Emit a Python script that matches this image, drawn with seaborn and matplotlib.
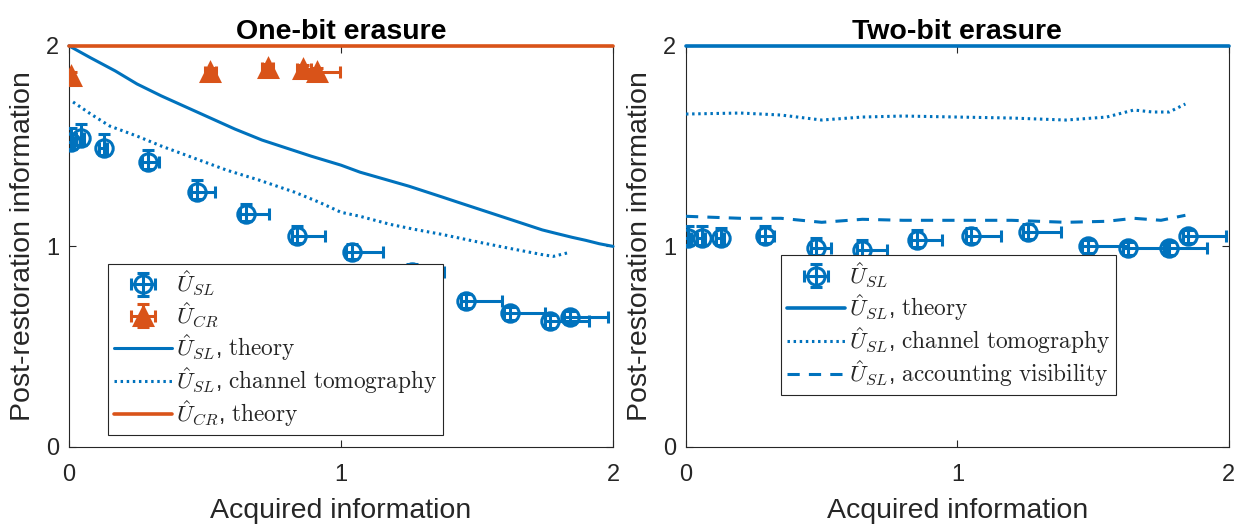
"""
Post-restoration information vs acquired information, one- and two-bit erasure
"""
import numpy as np
import pandas as pd
import seaborn as sns
import matplotlib
matplotlib.use('Agg')
import matplotlib.pyplot as plt

sns.set_style('ticks')
plt.rcParams['font.family'] = ['Liberation Sans', 'DejaVu Sans']
plt.rcParams['mathtext.fontset'] = 'cm'

BLUE = '#0072BD'
ORANGE = '#D95319'
INK = '#262626'

# ---- One-bit erasure: measured points
sl1_x = [0.007, 0.044, 0.13, 0.29, 0.47, 0.65, 0.84, 1.04, 1.26, 1.46, 1.62, 1.77, 1.84]
sl1_y = [1.52, 1.54, 1.49, 1.42, 1.27, 1.16, 1.05, 0.97, 0.87, 0.73, 0.67, 0.63, 0.65]
sl1_xerr = [0.01, 0.01, 0.01, 0.04, 0.066, 0.085, 0.10, 0.115, 0.12, 0.13, 0.13, 0.14, 0.14]
sl1_yerr = [0.07, 0.07, 0.07, 0.06, 0.06, 0.05, 0.05, 0.04, 0.04, 0.03, 0.03, 0.03, 0.03]

cr1_x = [0.007, 0.52, 0.73, 0.86, 0.91]
cr1_y = [1.85, 1.87, 1.89, 1.885, 1.87]
cr1_xerr = [0.005, 0.02, 0.02, 0.03, 0.085]
cr1_yerr = [0.02, 0.02, 0.02, 0.02, 0.02]

# ---- One-bit erasure: curves
th1_x = [0.0, 0.08, 0.17, 0.25, 0.34, 0.43, 0.52, 0.61, 0.71, 0.80, 0.89, 1.0, 1.07, 1.16,
         1.25, 1.37, 1.43, 1.52, 1.61, 1.74, 1.79, 1.85, 1.9, 1.95, 2.0]
th1_y = [2.0, 1.94, 1.875, 1.81, 1.75, 1.695, 1.64, 1.585, 1.53, 1.49, 1.45, 1.405, 1.37,
         1.335, 1.30, 1.247, 1.22, 1.18, 1.14, 1.082, 1.065, 1.045, 1.03, 1.013, 1.0]
ct1_x = [0.015, 0.08, 0.15, 0.25, 0.34, 0.46, 0.58, 0.70, 0.83, 0.92, 1.0, 1.07, 1.18,
         1.27, 1.37, 1.51, 1.62, 1.735, 1.78, 1.84]
ct1_y = [1.72, 1.66, 1.60, 1.55, 1.50, 1.44, 1.38, 1.33, 1.27, 1.22, 1.17, 1.15, 1.11,
         1.085, 1.06, 1.02, 0.99, 0.96, 0.95, 0.97]
crth1_x = [0.0, 2.0]
crth1_y = [2.0, 2.0]

# ---- Two-bit erasure: measured points
sl2_x = [0.007, 0.059, 0.13, 0.29, 0.48, 0.65, 0.85, 1.05, 1.26, 1.48, 1.63, 1.78, 1.85]
sl2_y = [1.04, 1.04, 1.04, 1.05, 0.99, 0.98, 1.03, 1.05, 1.07, 1.00, 0.99, 0.99, 1.05]
sl2_xerr = [0.01, 0.01, 0.01, 0.035, 0.055, 0.09, 0.095, 0.11, 0.12, 0.15, 0.14, 0.14, 0.14]
sl2_yerr = [0.06, 0.06, 0.05, 0.05, 0.05, 0.05, 0.05, 0.04, 0.04, 0.03, 0.03, 0.03, 0.03]

# ---- Two-bit erasure: curves
th2_x = [0.0, 2.0]
th2_y = [2.0, 2.0]
ct2_x = [0.0, 0.2, 0.35, 0.5, 0.65, 0.8, 1.0, 1.2, 1.4, 1.55, 1.65, 1.72, 1.78, 1.84]
ct2_y = [1.66, 1.665, 1.655, 1.63, 1.645, 1.65, 1.645, 1.64, 1.63, 1.645, 1.68, 1.67, 1.67, 1.71]
av2_x = [0.0, 0.2, 0.35, 0.5, 0.65, 0.8, 1.0, 1.2, 1.4, 1.55, 1.65, 1.75, 1.84]
av2_y = [1.15, 1.14, 1.14, 1.12, 1.135, 1.13, 1.13, 1.13, 1.12, 1.125, 1.14, 1.13, 1.155]

fig = plt.figure(figsize=(12.45, 5.27), dpi=100)
ax1 = fig.add_axes([0.0554, 0.152, 0.437, 0.761])
ax2 = fig.add_axes([0.551, 0.152, 0.436, 0.761])

dot = (0, (0.8, 1.2))


def points(ax, x, y, xerr, yerr, marker, color, label, filled=False):
    x = np.array(x)
    xe = np.vstack([np.full(len(x), 0.02), xerr])
    ye = np.vstack([np.full(len(x), 0.035), yerr])
    ax.errorbar(x, y, xerr=xe, yerr=ye, fmt=marker, color=color, ms=12.5 if marker == 'o' else 13,
                mfc=color if filled else 'none', mew=2.2, elinewidth=2.2, capsize=4, capthick=2.2,
                label=label, zorder=3)


def curve(ax, x, y, color, ls, label, clip=True, lw=2.2):
    sns.lineplot(x=x, y=y, ax=ax, color=color, lw=lw, linestyle=ls, label=label,
                 sort=False, estimator=None, clip_on=clip, zorder=4)


# left panel
points(ax1, sl1_x, sl1_y, sl1_xerr, sl1_yerr, 'o', BLUE, r'$\hat{U}_{SL}$')
points(ax1, cr1_x, cr1_y, cr1_xerr, cr1_yerr, '^', ORANGE, r'$\hat{U}_{CR}$', filled=True)
curve(ax1, th1_x, th1_y, BLUE, '-', r'$\hat{U}_{SL}$, $\mathrm{theory}$', clip=False)
curve(ax1, ct1_x, ct1_y, BLUE, dot, r'$\hat{U}_{SL}$, $\mathrm{channel\ tomography}$')
curve(ax1, crth1_x, crth1_y, ORANGE, '-', r'$\hat{U}_{CR}$, $\mathrm{theory}$', clip=False, lw=2.6)
ax1.set_title('One-bit erasure', fontsize=20.5, fontweight='bold', pad=5, color='black')
ax1.set_ylabel('Post-restoration information', fontsize=20.5, color=INK, labelpad=7)

# right panel
points(ax2, sl2_x, sl2_y, sl2_xerr, sl2_yerr, 'o', BLUE, r'$\hat{U}_{SL}$')
curve(ax2, th2_x, th2_y, BLUE, '-', r'$\hat{U}_{SL}$, $\mathrm{theory}$', clip=False, lw=2.6)
curve(ax2, ct2_x, ct2_y, BLUE, dot, r'$\hat{U}_{SL}$, $\mathrm{channel\ tomography}$')
curve(ax2, av2_x, av2_y, BLUE, (0, (4, 3)), r'$\hat{U}_{SL}$, $\mathrm{accounting\ visibility}$')
ax2.set_title('Two-bit erasure', fontsize=20.5, fontweight='bold', pad=5, color='black')
ax2.set_ylabel('Post-restoration information', fontsize=20.5, color=INK, labelpad=7)

for ax in (ax1, ax2):
    ax.set_xlim(0, 2)
    ax.set_ylim(0, 2)
    ax.set_xticks([0, 1, 2])
    ax.set_yticks([0, 1, 2])
    ax.set_xlabel('Acquired information', fontsize=20.5, color=INK, labelpad=9)
    ax.tick_params(direction='in', length=5, width=0.8, labelsize=17, colors=INK,
                   top=True, right=True)
    ax.tick_params(axis='x', pad=12)
    ax.tick_params(axis='y', pad=7)
    for s in ax.spines.values():
        s.set_visible(True)
        s.set_color(INK)
        s.set_linewidth(0.8)


def legend(ax, anchor):
    h, l = ax.get_legend_handles_labels()
    # errorbar entries come last from get_legend_handles_labels; put them first
    n_pts = sum(1 for x in h if hasattr(x, 'has_xerr'))
    order = list(range(len(h) - n_pts, len(h))) + list(range(len(h) - n_pts))
    leg = ax.legend([h[i] for i in order], [l[i] for i in order], loc='lower left',
                    bbox_to_anchor=anchor, fontsize=16.8, frameon=True, fancybox=False,
                    edgecolor=INK, framealpha=1, handlelength=2.5, handletextpad=0.15,
                    borderpad=0.25, labelspacing=0.1, borderaxespad=0)
    leg.get_frame().set_linewidth(0.8)
    leg.set_zorder(5)


legend(ax1, (0.072, 0.03))
legend(ax2, (0.175, 0.13))

fig.savefig('out.png', dpi=100)
